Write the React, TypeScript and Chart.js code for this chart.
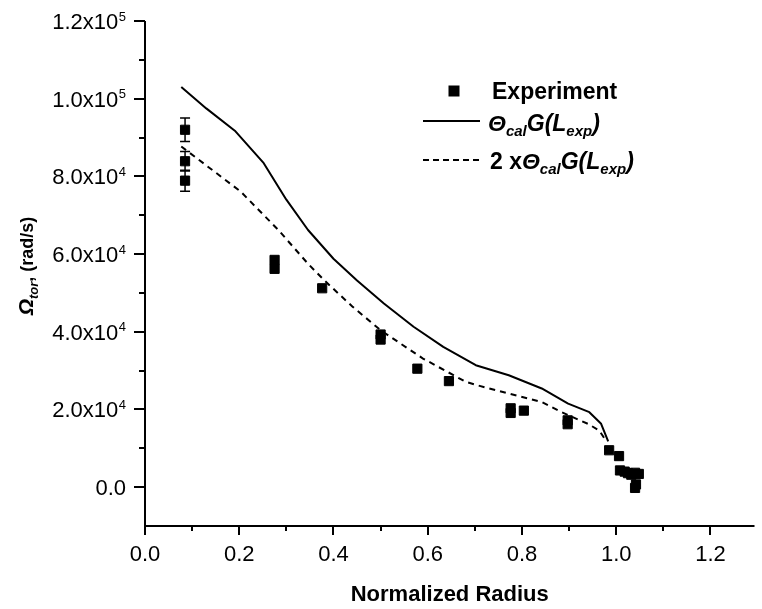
import React, { useEffect, useRef } from "react";
import { Chart, registerables } from "chart.js";

Chart.register(...registerables);

// ---------- data ----------
const expX = [0.085, 0.085, 0.085, 0.275, 0.275, 0.376, 0.5, 0.5, 0.578, 0.645, 0.776, 0.776, 0.804, 0.897, 0.897, 0.985, 1.006, 1.008, 1.018, 1.025, 1.032, 1.04, 1.048, 1.042, 1.04];
const expY = [92000, 83900, 78900, 58500, 56200, 51200, 39300, 38000, 30500, 27300, 20300, 19100, 19700, 17200, 16200, 9500, 8000, 4300, 4000, 3600, 3200, 3700, 3400, 700, -200];
const expErr = [3000, 2500, 2700, 0, 0, 0, 0, 0, 0, 0, 0, 0, 0, 0, 0, 0, 0, 0, 0, 0, 0, 0, 0, 0, 0];

const calcX = [0.077, 0.13, 0.192, 0.252, 0.3, 0.346, 0.4, 0.45, 0.507, 0.57, 0.633, 0.702, 0.772, 0.842, 0.898, 0.943, 0.968, 0.983];
const calcY = [103000, 97500, 91600, 83400, 74000, 66200, 58800, 53200, 47300, 41300, 36100, 31400, 28800, 25400, 21500, 19300, 16300, 11800];

const calc2X = [0.077, 0.203, 0.283, 0.346, 0.38, 0.44, 0.5, 0.59, 0.681, 0.706, 0.772, 0.842, 0.884, 0.94, 0.964, 0.978];
const calc2Y = [87700, 76100, 66200, 57500, 53300, 46500, 40400, 33100, 27100, 26200, 24100, 21900, 19300, 16300, 14600, 12000];

const xMajorTicks = [0, 0.2, 0.4, 0.6, 0.8, 1.0, 1.2];
const xTickLabels = ["0.0", "0.2", "0.4", "0.6", "0.8", "1.0", "1.2"];
const xMinorTicks = [0.1, 0.3, 0.5, 0.7, 0.9, 1.1];
const yMajorTicks = [0, 20000, 40000, 60000, 80000, 100000, 120000];
const yTickBase = ["0.0", "2.0x10", "4.0x10", "6.0x10", "8.0x10", "1.0x10", "1.2x10"];
const yTickExp = ["", "4", "4", "4", "4", "5", "5"];
const yMinorTicks = [10000, 30000, 50000, 70000, 90000, 110000];

const X_MIN = 0;
const X_MAX = 1.2935;
const Y_MIN = -10000;
const Y_MAX = 120000;

const xTitle = "Normalized Radius";
const legendLabels = ["Experiment", "calc", "2x calc"];

const FONT = '"Liberation Sans", Arial, Helvetica, sans-serif';

type Seg = { t: string; f: string; dy?: number };

function drawSegs(ctx: CanvasRenderingContext2D, segs: Seg[], x: number, y: number) {
  let cx = x;
  for (const s of segs) {
    ctx.font = s.f;
    ctx.fillText(s.t, cx, y + (s.dy || 0));
    cx += ctx.measureText(s.t).width;
  }
  return cx;
}
function segsWidth(ctx: CanvasRenderingContext2D, segs: Seg[]) {
  let w = 0;
  for (const s of segs) {
    ctx.font = s.f;
    w += ctx.measureText(s.t).width;
  }
  return w;
}

const originPlugin = {
  id: "originStyle",
  beforeDatasetsDraw(chart: any) {
    const ctx: CanvasRenderingContext2D = chart.ctx;
    const xs = chart.scales.x;
    const ys = chart.scales.y;
    ctx.save();
    ctx.strokeStyle = "#000";
    ctx.lineWidth = 1.5;
    for (let i = 0; i < expX.length; i++) {
      if (!expErr[i]) continue;
      const px = xs.getPixelForValue(expX[i]);
      const top = ys.getPixelForValue(expY[i] + expErr[i]);
      const bot = ys.getPixelForValue(expY[i] - expErr[i]);
      ctx.beginPath();
      ctx.moveTo(px, top);
      ctx.lineTo(px, bot);
      ctx.moveTo(px - 5, top);
      ctx.lineTo(px + 5, top);
      ctx.moveTo(px - 5, bot);
      ctx.lineTo(px + 5, bot);
      ctx.stroke();
    }
    ctx.restore();
  },
  afterDraw(chart: any) {
    const ctx: CanvasRenderingContext2D = chart.ctx;
    const xs = chart.scales.x;
    const ys = chart.scales.y;
    const a = chart.chartArea;
    ctx.save();
    ctx.strokeStyle = "#000";
    ctx.fillStyle = "#000";
    ctx.lineWidth = 2;
    // axis lines
    ctx.beginPath();
    ctx.moveTo(a.left, ys.getPixelForValue(Y_MAX));
    ctx.lineTo(a.left, a.bottom + 1);
    ctx.moveTo(a.left - 1, a.bottom);
    ctx.lineTo(a.right, a.bottom);
    // x ticks
    for (const v of xMajorTicks) {
      const px = Math.round(xs.getPixelForValue(v));
      ctx.moveTo(px, a.bottom);
      ctx.lineTo(px, a.bottom + 9);
    }
    for (const v of xMinorTicks) {
      const px = Math.round(xs.getPixelForValue(v));
      ctx.moveTo(px, a.bottom);
      ctx.lineTo(px, a.bottom + 5);
    }
    // y ticks
    for (const v of yMajorTicks) {
      const py = Math.round(ys.getPixelForValue(v));
      ctx.moveTo(a.left, py);
      ctx.lineTo(a.left - 11, py);
    }
    for (const v of yMinorTicks) {
      const py = Math.round(ys.getPixelForValue(v));
      ctx.moveTo(a.left, py);
      ctx.lineTo(a.left - 6, py);
    }
    ctx.stroke();

    // x labels
    ctx.font = "22px " + FONT;
    ctx.textAlign = "center";
    ctx.textBaseline = "alphabetic";
    xMajorTicks.forEach((v, i) => {
      ctx.fillText(xTickLabels[i], xs.getPixelForValue(v), a.bottom + 35);
    });
    // x title
    ctx.font = "bold 22px " + FONT;
    ctx.fillText(xTitle, (a.left + a.right) / 2, a.bottom + 75);

    // y labels
    ctx.textAlign = "right";
    const rightEdge = 126;
    yMajorTicks.forEach((v, i) => {
      const py = ys.getPixelForValue(v);
      let r = rightEdge;
      if (yTickExp[i]) {
        ctx.font = "13px " + FONT;
        ctx.fillText(yTickExp[i], r, py - 0.5);
        r -= ctx.measureText(yTickExp[i]).width + 0.5;
      }
      ctx.font = "22px " + FONT;
      ctx.fillText(yTickBase[i], r, py + 8);
    });

    // y title (rotated)
    ctx.textAlign = "left";
    const ySegs: Seg[] = [
      { t: "\u03A9", f: "italic bold 21px " + FONT },
      { t: "tor", f: "italic bold 13px " + FONT, dy: 5 },
      { t: ", (rad/s)", f: "bold 18px " + FONT },
    ];
    ctx.save();
    ctx.translate(33, 266);
    ctx.rotate(-Math.PI / 2);
    const w = segsWidth(ctx, ySegs);
    drawSegs(ctx, ySegs, -w / 2, 0);
    ctx.restore();

    // legend
    const bi = "italic bold 23px " + FONT;
    const bs = "italic bold 15px " + FONT;
    const b = "bold 23px " + FONT;
    ctx.fillRect(448.5, 85.5, 11, 11);
    ctx.font = b;
    ctx.fillText(legendLabels[0], 492, 99);

    ctx.beginPath();
    ctx.lineWidth = 2;
    ctx.moveTo(423, 121);
    ctx.lineTo(480, 121);
    ctx.stroke();
    const theta: Seg[] = [
      { t: "\u0398", f: bi },
      { t: "cal", f: bs, dy: 5 },
      { t: "G(", f: bi },
      { t: "L", f: bi },
      { t: "exp", f: bs, dy: 5 },
      { t: ")", f: bi },
    ];
    drawSegs(ctx, theta, 488, 131);

    ctx.beginPath();
    ctx.setLineDash([6, 4]);
    ctx.moveTo(423, 160);
    ctx.lineTo(479, 160);
    ctx.stroke();
    ctx.setLineDash([]);
    drawSegs(ctx, [{ t: "2 x", f: b }, ...theta], 490, 169);

    ctx.restore();
  },
};

export default function App() {
  const ref = useRef<HTMLCanvasElement | null>(null);
  useEffect(() => {
    document.body.style.margin = "0";
    const canvas = ref.current;
    if (!canvas) return;
    const chart = new Chart(canvas, {
      type: "scatter",
      data: {
        datasets: [
          {
            label: legendLabels[0],
            data: expX.map((x, i) => ({ x, y: expY[i] })),
            pointStyle: "rect",
            pointRadius: 6.5,
            pointBackgroundColor: "#000",
            pointBorderColor: "#000",
            pointBorderWidth: 1,
            showLine: false,
          },
          {
            label: legendLabels[1],
            data: calcX.map((x, i) => ({ x, y: calcY[i] })),
            showLine: true,
            borderColor: "#000",
            borderWidth: 2,
            pointRadius: 0,
            tension: 0,
            borderJoinStyle: "round",
          },
          {
            label: legendLabels[2],
            data: calc2X.map((x, i) => ({ x, y: calc2Y[i] })),
            showLine: true,
            borderColor: "#000",
            borderWidth: 2,
            borderDash: [6, 5],
            pointRadius: 0,
            tension: 0,
          },
        ],
      },
      options: {
        animation: false,
        responsive: false,
        devicePixelRatio: 1,
        layout: { padding: { left: 145, top: 21, right: 0, bottom: 83 } },
        plugins: { legend: { display: false }, tooltip: { enabled: false } },
        scales: {
          x: { type: "linear", min: X_MIN, max: X_MAX, display: false },
          y: { type: "linear", min: Y_MIN, max: Y_MAX, display: false },
        },
      },
      plugins: [originPlugin],
    } as any);
    return () => chart.destroy();
  }, []);
  return (
    <div style={{ position: "fixed", left: 0, top: 0, width: 762, height: 609, background: "#fff" }}>
      <canvas ref={ref} width={762} height={609} style={{ display: "block" }} />
    </div>
  );
}
